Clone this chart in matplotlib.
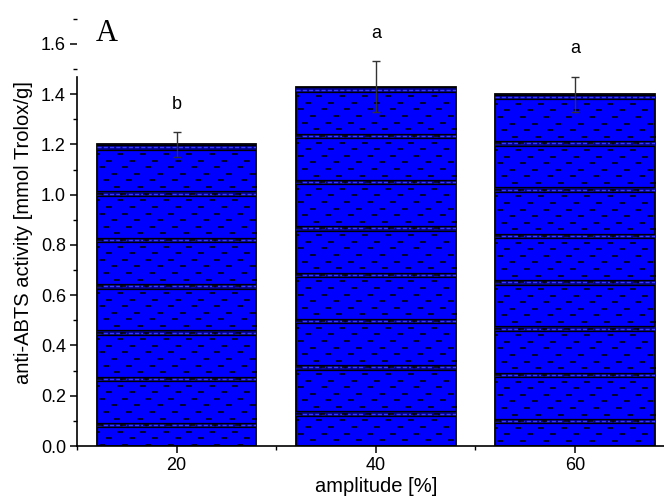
import numpy as np
import matplotlib
matplotlib.use("Agg")
import matplotlib.pyplot as plt
from matplotlib.patches import Rectangle
from matplotlib.ticker import MultipleLocator, FormatStrFormatter

# anti-ABTS activity per sonication amplitude
amplitude = [20, 40, 60]
activity = [1.20, 1.43, 1.40]
activity_sd = [0.05, 0.10, 0.07]
groups = ["b", "a", "a"]

plt.rcParams["font.family"] = ["Liberation Sans", "DejaVu Sans"]

fig = plt.figure(figsize=(6.64, 4.98), dpi=100)
ax = fig.add_axes([0.116, 0.1044, 0.900, 0.858])
ax.set_xlim(10, 70)
ax.set_ylim(0, 1.7)

bar_w = 16
bars = ax.bar(amplitude, activity, width=bar_w, color="#0000ff",
              edgecolor="black", linewidth=1.3, zorder=2)

# pixel -> data scale for the pattern drawn inside the bars
bb = ax.get_window_extent()
px_x = (70 - 10) / bb.width
px_y = 1.7 / bb.height

band_step = 46.3 * px_y
band_h = 4.5 * px_y
row_step = band_step / 7
offsets = [0, 12, 5, 17, 9, 20, 3]

for rect, top in zip(bars, activity):
    x0 = rect.get_x()
    x1 = x0 + rect.get_width()
    # dark banded rows, counted down from the bar top
    y = top - 3 * px_y
    while y > 0:
        band = Rectangle((x0, y - band_h / 2), bar_w, band_h, facecolor="#00008a",
                         edgecolor="none", zorder=3)
        ax.add_patch(band)
        band.set_clip_path(rect)
        for yy in (y - band_h / 2, y + band_h / 2):
            ln, = ax.plot([x0, x1], [yy, yy], color="black", lw=0.9, zorder=3)
            ln.set_clip_path(rect)
        ln, = ax.plot([x0, x1], [y, y], color="#3a3aff", lw=1.0,
                      dashes=(3, 1.5), zorder=3)
        ln.set_clip_path(rect)
        y -= band_step
    # small scattered dashes
    y = top - 3 * px_y - row_step
    i = 0
    while y > 0:
        xs = np.arange(x0 + offsets[i % 7] * px_x, x1, 23 * px_x)
        mk, = ax.plot(xs, np.full_like(xs, y), ls="none", marker="_",
                      markersize=5, mew=1.1, color="black", zorder=3)
        mk.set_clip_path(rect)
        y -= row_step
        i += 1

ax.errorbar(amplitude, activity, yerr=activity_sd, fmt="none", ecolor="#333333",
            elinewidth=1.0, capsize=3, capthick=1.0, zorder=4)

for x, v, sd, g in zip(amplitude, activity, activity_sd, groups):
    ax.text(x, v + sd + 0.11, g, ha="center", va="center", fontsize=13)

ax.text(13.0, 1.611, "A", fontsize=22, family="Liberation Serif",
        ha="center", va="baseline")

ax.spines["top"].set_visible(False)
ax.spines["right"].set_visible(False)
ax.spines["left"].set_bounds(0, 1.47)
for s in ("left", "bottom"):
    ax.spines[s].set_linewidth(1.2)

ax.set_xticks(amplitude)
ax.xaxis.set_minor_locator(MultipleLocator(10))
ax.yaxis.set_major_locator(MultipleLocator(0.2))
ax.yaxis.set_minor_locator(MultipleLocator(0.1))
ax.yaxis.set_major_formatter(FormatStrFormatter("%.1f"))
ax.tick_params(which="major", direction="out", length=5, width=1.1,
               labelsize=13, pad=3)
ax.tick_params(which="minor", direction="out", length=3, width=1.0)

ax.set_xlabel("amplitude [%]", fontsize=14.5, va="center")
ax.set_ylabel("anti-ABTS activity [mmol Trolox/g]", fontsize=14.5, va="center")
ax.xaxis.set_label_coords(0.5, -0.094)
ax.yaxis.set_label_coords(-0.090, 0.5)

fig.savefig("out.png", dpi=100)
